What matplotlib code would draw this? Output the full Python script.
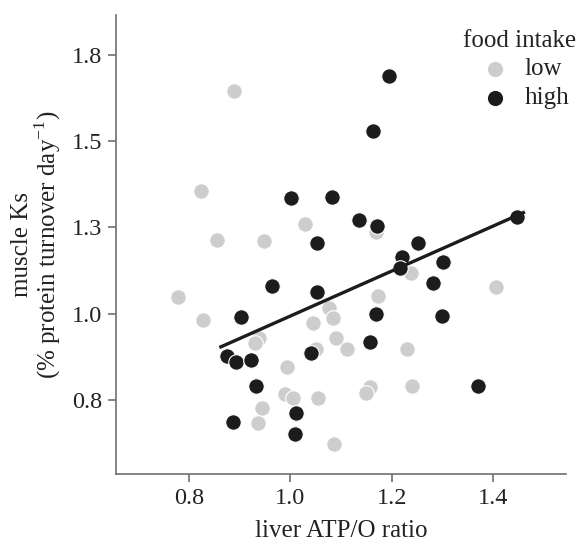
import matplotlib.pyplot as plt
import numpy as np

# liver ATP/O ratio vs muscle Ks
low_x = [0.778, 0.889, 0.824, 0.855, 0.948, 1.029, 0.828, 0.938, 0.930, 0.993,
         0.990, 1.005, 0.944, 0.936, 1.169, 1.238, 1.173, 1.076, 1.084, 1.045,
         1.090, 1.112, 1.051, 1.230, 1.157, 1.149, 1.240, 1.055, 1.086, 1.406]
low_y = [1.049, 1.646, 1.356, 1.214, 1.211, 1.260, 0.982, 0.930, 0.915, 0.846,
         0.767, 0.756, 0.727, 0.683, 1.237, 1.118, 1.052, 1.017, 0.988, 0.973,
         0.930, 0.898, 0.898, 0.898, 0.788, 0.770, 0.791, 0.756, 0.622, 1.078]

high_x = [1.195, 1.163, 1.001, 1.082, 1.136, 1.171, 1.053, 1.252, 1.220, 1.217,
          1.301, 1.282, 1.053, 1.169, 1.299, 1.447, 1.370, 1.157, 1.041, 1.011,
          1.009, 0.903, 0.875, 0.893, 0.922, 0.932, 0.887, 0.964]
high_y = [1.690, 1.530, 1.336, 1.339, 1.272, 1.255, 1.205, 1.205, 1.165, 1.133,
          1.150, 1.089, 1.063, 0.999, 0.994, 1.281, 0.791, 0.918, 0.886, 0.712,
          0.651, 0.991, 0.878, 0.860, 0.866, 0.791, 0.686, 1.081]

# fitted line
fit_x = [0.86, 1.463]
fit_slope = 0.652
fit_icpt = 0.341

yticks = [0.75, 1.0, 1.25, 1.5, 1.75]
ytick_labels = ["0.8", "1.0", "1.3", "1.5", "1.8"]
xticks = [0.8, 1.0, 1.2, 1.4]
xtick_labels = ["0.8", "1.0", "1.2", "1.4"]

plt.rcParams['font.family'] = ['Liberation Serif', 'DejaVu Serif']

fig = plt.figure(figsize=(5.79, 5.44), dpi=100)
ax = fig.add_axes([0.2003, 0.1287, 0.7772, 0.8437])

ax.scatter(low_x, low_y, s=125, color='#cccdcf', edgecolors='white',
           linewidths=0.8, zorder=2, label='low')
ax.scatter(high_x, high_y, s=125, color='#1c1c1c', edgecolors='white',
           linewidths=0.8, zorder=3, label='high')

fx = np.array(fit_x)
ax.plot(fx, fit_icpt + fit_slope * fx, color='#1c1c1c', lw=2.4,
        solid_capstyle='butt', zorder=4)

ax.set_xlim(0.656, 1.544)
ax.set_ylim(0.535, 1.866)
ax.set_xticks(xticks)
ax.set_xticklabels(xtick_labels)
ax.set_yticks(yticks)
ax.set_yticklabels(ytick_labels)

for s in ['top', 'right']:
    ax.spines[s].set_visible(False)
for s in ['left', 'bottom']:
    ax.spines[s].set_color('#707070')
    ax.spines[s].set_linewidth(1.2)
ax.tick_params(direction='out', length=6, width=1.2, color='#707070',
               labelsize=17.5, labelcolor='#222222', pad=4)

ax.set_xlabel('liver ATP/O ratio', fontsize=18, color='#222222', labelpad=8)
ax.set_ylabel('muscle Ks\n(% protein turnover day$^{\\mathregular{-1}}$)',
              fontsize=18, color='#222222', labelpad=6, linespacing=1.0)

leg = ax.legend(title='food intake', loc='upper right', bbox_to_anchor=(1.045, 0.99),
                frameon=False, fontsize=18, title_fontsize=18, handletextpad=0.2,
                borderaxespad=0, labelspacing=0.25, markerscale=1.05)
for t in leg.get_texts():
    t.set_color('#222222')
leg.get_title().set_color('#222222')

fig.savefig('out.png', dpi=100)
